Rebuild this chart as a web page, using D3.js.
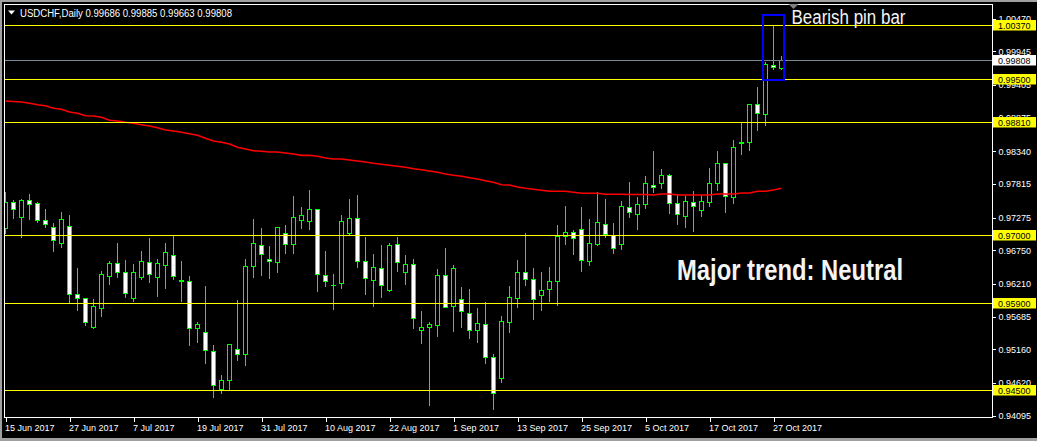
<!DOCTYPE html>
<html><head><meta charset="utf-8">
<script src="https://cdn.jsdelivr.net/npm/d3@7"></script>
<style>html,body{margin:0;padding:0;background:#000;overflow:hidden}</style>
</head><body>
<svg id="c" width="1037" height="441"></svg>
<script>
const symbol = "USDCHF,Daily";
const opens = [0.97103,0.97521,0.97280,0.97553,0.97505,0.97232,0.97119,0.96862,0.97136,0.96043,
0.95979,0.95513,0.95818,0.96332,0.96541,0.96396,0.95979,0.96327,0.96557,0.96316,
0.96509,0.96670,0.96273,0.96252,0.95497,0.95432,0.95127,0.94516,0.94661,0.95159,
0.95079,0.96493,0.96830,0.96605,0.96557,0.97023,0.96846,0.97232,0.97216,0.97409,
0.96348,0.96188,0.96220,0.97034,0.97264,0.96573,0.96279,0.96461,0.96118,0.96846,
0.96396,0.96525,0.95464,0.95513,0.95545,0.96348,0.95850,0.95963,0.95738,0.95464,
0.95561,0.95031,0.94693,0.95604,0.95979,0.96396,0.96284,0.96027,0.96123,0.96252,
0.96975,0.97039,0.97087,0.96573,0.96846,0.97168,0.96991,0.96846,0.97441,0.97328,
0.97489,0.97794,0.97826,0.97955,0.97505,0.97296,0.97521,0.97393,0.97521,0.97826,
0.98148,0.97602,0.98474,0.98485,0.99096,0.98935,0.99720,0.99686];
const highs = [0.97703,0.97575,0.97585,0.97671,0.97543,0.97430,0.97205,0.97382,0.97334,0.96482,
0.96005,0.95979,0.96434,0.96595,0.96884,0.96611,0.96546,0.96755,0.96964,0.96627,
0.96884,0.97012,0.96595,0.96348,0.95614,0.96193,0.95240,0.94763,0.95256,0.95973,
0.96627,0.97269,0.97125,0.96836,0.97141,0.97173,0.97639,0.97462,0.97735,0.97430,
0.96755,0.96386,0.97334,0.97591,0.97655,0.96980,0.96707,0.96852,0.96884,0.96980,
0.96691,0.96621,0.95791,0.95609,0.96466,0.96803,0.96530,0.96177,0.96145,0.95839,
0.95936,0.95100,0.95706,0.96188,0.96611,0.97045,0.96482,0.96413,0.96498,0.97168,
0.97478,0.97087,0.97462,0.97264,0.97703,0.97585,0.97205,0.97553,0.97859,0.97618,
0.97960,0.98357,0.98068,0.97987,0.97666,0.97634,0.97714,0.97650,0.98084,0.98357,
0.98164,0.98534,0.98807,0.99112,0.99390,0.99787,1.00366,0.99885];
const lows = [0.97034,0.97264,0.96959,0.97248,0.97205,0.97119,0.96745,0.96809,0.95925,0.95797,
0.95556,0.95507,0.95700,0.96214,0.96327,0.96005,0.95941,0.96295,0.96246,0.96022,
0.96150,0.96284,0.95941,0.95234,0.95282,0.94934,0.94388,0.94452,0.94500,0.94993,
0.94902,0.96327,0.96354,0.96311,0.96407,0.96712,0.96712,0.97114,0.97098,0.96102,
0.96182,0.95813,0.96150,0.97018,0.96487,0.96054,0.95861,0.96005,0.96102,0.96413,
0.96204,0.95507,0.95266,0.94270,0.95379,0.95834,0.95459,0.95523,0.95347,0.95282,
0.94945,0.94206,0.94629,0.95443,0.95845,0.96188,0.95652,0.95797,0.95941,0.95877,
0.96846,0.96686,0.96423,0.96520,0.96830,0.96970,0.96702,0.96766,0.97280,0.97087,
0.97425,0.97682,0.97746,0.97344,0.97168,0.97119,0.97055,0.97296,0.97457,0.97714,
0.97361,0.97505,0.98302,0.98367,0.98678,0.98759,0.99658,0.99663];
const closes = [0.97521,0.97409,0.97553,0.97489,0.97232,0.97168,0.96911,0.97248,0.96043,0.95979,
0.95593,0.95850,0.96364,0.96541,0.96396,0.96059,0.96396,0.96579,0.96375,0.96546,
0.96723,0.96332,0.96263,0.95497,0.95561,0.95143,0.94581,0.94661,0.95240,0.95079,
0.96493,0.96862,0.96686,0.96573,0.97119,0.96846,0.97280,0.97312,0.97409,0.96364,
0.96252,0.96188,0.97216,0.97264,0.96573,0.96300,0.96477,0.96188,0.96830,0.96557,
0.96525,0.95657,0.95513,0.95561,0.96348,0.95845,0.96461,0.95770,0.95464,0.95577,
0.95031,0.94452,0.95609,0.95995,0.96396,0.96284,0.95963,0.96107,0.96252,0.96975,
0.97039,0.96943,0.96589,0.96862,0.97200,0.97007,0.96782,0.97457,0.97361,0.97489,
0.97826,0.97762,0.97955,0.97505,0.97328,0.97537,0.97457,0.97537,0.97826,0.98148,
0.97618,0.98405,0.98485,0.99096,0.98951,0.99739,0.99700,0.99808];
const movingAverage = [0.99149,0.99141,0.99133,0.99112,0.99090,0.99073,0.99032,0.99016,0.98972,0.98951,
0.98913,0.98908,0.98887,0.98839,0.98828,0.98807,0.98791,0.98768,0.98747,0.98720,
0.98683,0.98667,0.98646,0.98624,0.98598,0.98550,0.98506,0.98485,0.98458,0.98405,
0.98378,0.98350,0.98341,0.98330,0.98330,0.98313,0.98297,0.98276,0.98276,0.98260,
0.98233,0.98217,0.98217,0.98201,0.98185,0.98169,0.98148,0.98132,0.98116,0.98100,
0.98084,0.98061,0.98045,0.98024,0.98003,0.97976,0.97955,0.97939,0.97917,0.97896,
0.97868,0.97843,0.97804,0.97799,0.97767,0.97746,0.97730,0.97714,0.97698,0.97698,
0.97698,0.97682,0.97666,0.97666,0.97666,0.97650,0.97650,0.97650,0.97647,0.97647,
0.97647,0.97639,0.97655,0.97655,0.97639,0.97639,0.97639,0.97639,0.97639,0.97655,
0.97655,0.97655,0.97671,0.97671,0.97698,0.97698,0.97719,0.97746];
const levelPrices = [1.00370, 0.99500, 0.98810, 0.97000, 0.95900, 0.94500];
const bidPrice = 0.99808;
const priceTicks = [1.00470,0.99945,0.99405,0.98875,0.98340,0.97815,0.97275,0.96750,0.96210,0.95685,0.95160,0.94620,0.94095];
const dateTickBars = [0,8,16,24,32,40,48,56,64,72,80,88,96];
const dateTickLabels = ["15 Jun 2017","27 Jun 2017","7 Jul 2017","19 Jul 2017","31 Jul 2017","10 Aug 2017","22 Aug 2017","1 Sep 2017","13 Sep 2017","25 Sep 2017","5 Oct 2017","17 Oct 2017","27 Oct 2017"];
const annotations = ["Bearish pin bar", "Major trend: Neutral"];

const W = 1037, H = 441;
const L = 4.5, R = 992.5, T = 4.5, B = 417.5;
const FONT = "'Liberation Sans', Arial, sans-serif";
const GREEN = "#00ff00";

const svg = d3.select("#c");
svg.append("rect").attr("width", W).attr("height", H).attr("fill", "#000");
// window edges
svg.append("rect").attr("x",0).attr("y",0).attr("width",W).attr("height",2).attr("fill","#a0a0a0");
svg.append("rect").attr("x",0).attr("y",0).attr("width",2).attr("height",H).attr("fill","#a0a0a0");
svg.append("rect").attr("x",0).attr("y",438).attr("width",W).attr("height",3).attr("fill","#a0a0a0");

const n = opens.length;
const x = d3.scaleLinear().domain([0, n - 1]).range([5.5, 5.5 + 8 * (n - 1)]);
const y = d3.scaleLinear().domain([0.94095, 1.00470]).range([415.5, 18.8]);

svg.append("defs").append("clipPath").attr("id","plot")
  .append("rect").attr("x", L + 0.5).attr("y", T + 0.5).attr("width", R - L - 1).attr("height", B - T - 1);

const plot = svg.append("g").attr("clip-path", "url(#plot)");
const bars = d3.range(n);

// wicks
plot.append("g").attr("shape-rendering","crispEdges").selectAll("line").data(bars).join("line")
  .attr("x1", i => x(i)).attr("x2", i => x(i))
  .attr("y1", i => Math.round(y(highs[i])) + 0.5).attr("y2", i => Math.round(y(lows[i])) + 0.5)
  .attr("stroke", GREEN).attr("stroke-width", 1);

// bodies
const bodyG = plot.append("g").attr("shape-rendering","crispEdges");
bars.forEach(i => {
  const yo = y(opens[i]), yc = y(closes[i]);
  const diff = Math.abs(yo - yc);
  const cx = x(i);
  if (diff < 0.3) {
    bodyG.append("line").attr("x1", cx - 2.5).attr("x2", cx + 2.5)
      .attr("y1", Math.round(yo) + 0.5).attr("y2", Math.round(yo) + 0.5)
      .attr("stroke", GREEN).attr("stroke-width", 1);
  } else {
    const top = Math.round(Math.min(yo, yc)) + 0.5;
    let bot = Math.round(Math.max(yo, yc)) + 0.5;
    if (bot - top < 1) bot = top + 1;
    bodyG.append("rect").attr("x", cx - 2).attr("y", top).attr("width", 4).attr("height", bot - top)
      .attr("fill", closes[i] > opens[i] ? "#000" : "#fff")
      .attr("stroke", GREEN).attr("stroke-width", 1);
  }
});

// moving average
plot.append("path").datum(bars)
  .attr("d", d3.line().x(i => x(i)).y(i => y(movingAverage[i])))
  .attr("fill", "none").attr("stroke", "#ff0000").attr("stroke-width", 1.6);

// horizontal levels
plot.append("g").attr("shape-rendering","crispEdges").selectAll("line").data(levelPrices).join("line")
  .attr("x1", L).attr("x2", R)
  .attr("y1", d => Math.round(y(d)) + 0.5).attr("y2", d => Math.round(y(d)) + 0.5)
  .attr("stroke", "#ffff00").attr("stroke-width", 1);
// bid line
plot.append("line").attr("shape-rendering","crispEdges")
  .attr("x1", L).attr("x2", R)
  .attr("y1", Math.round(y(bidPrice)) + 0.5).attr("y2", Math.round(y(bidPrice)) + 0.5)
  .attr("stroke", "#778899").attr("stroke-width", 1);

// annotation box around the pin bar
plot.append("rect").attr("shape-rendering","crispEdges")
  .attr("x", x(n - 3.3)).attr("y", y(1.00531))
  .attr("width", x(n - 0.7) - x(n - 3.3)).attr("height", y(0.99486) - y(1.00531))
  .attr("fill", "none").attr("stroke", "#0000ff").attr("stroke-width", 2);

svg.append("text").text(annotations[0])
  .attr("x", x(n - 1) + 10).attr("y", 23.5)
  .attr("font-family", "'Liberation Sans Narrow', 'Liberation Sans', Arial, sans-serif")
  .attr("font-size", 19.5).attr("fill", "#f4f4f4")
  .attr("textLength", 114).attr("lengthAdjust", "spacingAndGlyphs");

svg.append("text").text(annotations[1])
  .attr("x", 677).attr("y", 280)
  .attr("font-family", "'Liberation Sans Narrow', 'Liberation Sans', Arial, sans-serif")
  .attr("font-weight", "bold")
  .attr("font-size", 29).attr("fill", "#f4f4f4")
  .attr("textLength", 226).attr("lengthAdjust", "spacingAndGlyphs");

// right price axis
const yAxis = d3.axisRight(y).tickValues(priceTicks).tickSize(3).tickPadding(3)
  .tickFormat(d3.format(".5f"));
const ya = svg.append("g").attr("transform", `translate(${R},0)`).call(yAxis);
ya.select(".domain").remove();
ya.selectAll("line").attr("stroke", "#fff").attr("shape-rendering","crispEdges");
ya.selectAll("text").attr("fill", "#fff").attr("font-family", FONT).attr("font-size", 9);

// level labels
const labels = levelPrices.map(p => ({p, bg: "#ffff00"})).concat([{p: bidPrice, bg: "#ffffff"}]);
const lg = svg.append("g");
labels.forEach(d => {
  const yc = Math.round(y(d.p));
  lg.append("rect").attr("x", 993).attr("y", yc - 5).attr("width", 43).attr("height", 10.5).attr("fill", d.bg);
  lg.append("text").text(d3.format(".5f")(d.p)).attr("x", 998).attr("y", yc + 3.6)
    .attr("fill", "#000").attr("font-family", FONT).attr("font-size", 9);
});

// bottom date axis
const xAxis = d3.axisBottom(x).tickValues(dateTickBars).tickSize(4)
  .tickFormat((d, k) => dateTickLabels[k]);
const xa = svg.append("g").attr("transform", `translate(0,${B})`).call(xAxis);
xa.select(".domain").remove();
xa.selectAll("line").attr("stroke", "#fff").attr("shape-rendering","crispEdges");
xa.selectAll("text").attr("fill", "#fff").attr("font-family", FONT).attr("font-size", 9)
  .attr("text-anchor", "start").attr("x", -1).attr("y", 13).attr("dy", 0);

// frame
svg.append("rect").attr("x", L).attr("y", T).attr("width", R - L).attr("height", B - T)
  .attr("fill", "none").attr("stroke", "#fff").attr("stroke-width", 1).attr("shape-rendering","crispEdges");

// chart shift marker
const sx = x(n - 1) + 12;
svg.append("path").attr("d", `M${sx-5},4 L${sx+5},4 L${sx},9 Z`).attr("fill", "#808080");

// title
svg.append("path").attr("d", "M8,10.5 L15,10.5 L11.5,14.5 Z").attr("fill", "#fff");
svg.append("text")
  .text(`${symbol}  ${[opens[n-1], highs[n-1], lows[n-1], closes[n-1]].map(d3.format(".5f")).join(" ")}`)
  .attr("x", 20).attr("y", 16.7).attr("fill", "#fff").attr("font-family", FONT).attr("font-size", 10)
  .attr("textLength", 212).attr("lengthAdjust", "spacingAndGlyphs");
</script>
</body></html>
